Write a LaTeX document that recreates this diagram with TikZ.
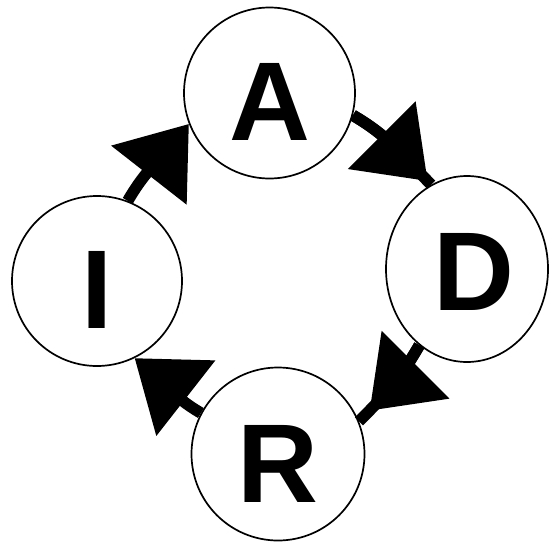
\documentclass[tikz,border=0pt]{standalone}
\usepackage{fontspec}
\setmainfont{Liberation Sans}
\usetikzlibrary{arrows.meta,shapes.geometric}
\begin{document}
\begin{tikzpicture}[x=1pt,y=1pt,
  stage/.style={draw=black, line width=1.7pt, fill=white, inner sep=0pt,
    font=\fontsize{112}{112}\selectfont\bfseries},
  ring/.style={stage, circle},
  oval/.style={stage, ellipse},
  flowhead/.style={-{Triangle[length=65pt,width=93pt]}},
  flow/.style={line width=11.5pt, flowhead},
  flowgap/.style={line width=11.5pt,
    postaction={draw, line width=11.5pt, flowhead, shorten >=#1}}
]
\useasboundingbox (0,0) rectangle (549,-544);
\node[ring, minimum size=171pt, text height=94pt] (A) at (269.5,-93) {A};
\node[oval, minimum width=162pt, minimum height=186pt, text height=82pt] (D) at (467,-269) {\hspace*{13pt}D};
\node[ring, minimum size=170pt, text height=94pt] (I) at (97,-281) {I};
\node[ring, minimum size=173pt, text height=96pt] (R) at (278,-454) {R};
\draw[flowgap=5pt] (A.-15) to[out=-30, in=135] (D.113);
\draw[flowgap=15pt] (D.-122) to[out=-120, in=45] (R.22);
\draw[flow] (R.152) to[out=150, in=-38] (I.-64);
\draw[flow] (I.69) to[out=60, in=-128] (A.-159);
\end{tikzpicture}
\end{document}
